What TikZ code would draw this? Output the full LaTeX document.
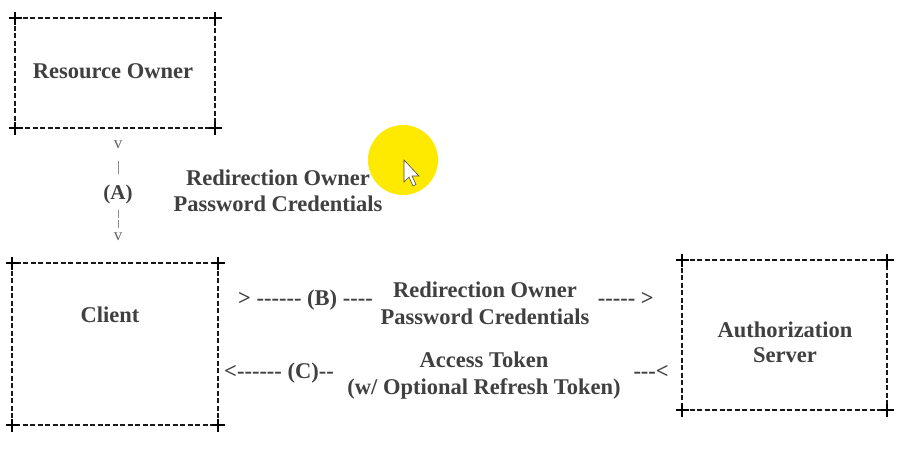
\documentclass[tikz,border=0pt]{standalone}
\usepackage{fontspec}
\setmainfont{Liberation Serif}[Ligatures=TeXOff]
\begin{document}
\begin{tikzpicture}[x=1pt,y=-1pt,
  txt/.style={font=\fontsize{22.5}{27}\selectfont\bfseries, text=black!75, inner sep=0pt, anchor=base},
  thin/.style={font=\fontsize{17}{20}\selectfont, text=black!60, inner sep=0pt},
  bar/.style={draw=black!45, line width=0.8pt},
  dbox/.style={draw=black!90, line width=1.5pt, dash pattern=on 5pt off 2.5pt},
  plus/.style={draw=black, line width=2pt}]
\fill[white] (0,0) rectangle (919,450);
\useasboundingbox (0,0) rectangle (919,450);
\tikzset{crn/.pic={\draw[plus] (-6.5,0) -- (6.5,0) (0,-6.5) -- (0,6.5);}}
% boxes
\draw[dbox] (15,18) rectangle (215,128);
\foreach \p in {(15,18),(215,18),(15,128),(215,128)} \pic at \p {crn};
\draw[dbox] (12,263) rectangle (218,425);
\foreach \p in {(12,263),(218,263),(12,425),(218,425)} \pic at \p {crn};
\draw[dbox] (682,260) rectangle (887,410);
\foreach \p in {(682,260),(887,260),(682,410),(887,410)} \pic at \p {crn};
% box labels
\node[txt] (ro) at (113,78) {Resource Owner};
\node[txt] (cl) at (110,322) {Client};
\node[txt] (as1) at (785,337) {Authorization};
\node[txt] (as2) at (785,362) {Server};
% vertical (A)
\node[thin] (v1) at (118,145) {v};
\coordinate (b1a) at (118,161); \coordinate (b1b) at (118,174);
\draw[bar] (b1a) -- (b1b);
\node[txt, font=\fontsize{21}{25}\selectfont\bfseries] (a) at (118,199) {(A)};
\coordinate (b2a) at (118,210); \coordinate (b2b) at (118,218);
\coordinate (b2c) at (118,220); \coordinate (b2d) at (118,228);
\draw[bar] (b2a) -- (b2b) (b2c) -- (b2d);
\node[thin] (v2) at (118,237) {v};
\node[txt] (ra1) at (278,185) {Redirection Owner};
\node[txt] (ra2) at (278,211) {Password Credentials};
% (B)
\node[txt, anchor=base west] (bl) at (238,305) {> ------ (B) ----};
\node[txt] (rb1) at (485,297) {Redirection Owner};
\node[txt] (rb2) at (485,324) {Password Credentials};
\node[txt, anchor=base east] (br) at (654,305) {----- >};
% (C)
\node[txt, anchor=base west] (clft) at (224,378) {<------ (C)--};
\node[txt] (c1) at (484,367) {Access Token};
\node[txt] (c2) at (484,394) {(w/ Optional Refresh Token)};
\node[txt, anchor=base east] (crt) at (669,378) {---<};
% yellow highlight and cursor
\fill[yellow!92!orange] (403,160) circle (35);
\draw[black!70, line width=0.6pt, fill=white] (404,160) -- (404,182) -- (409,177) -- (413,186) -- (416,184.5) -- (412,176) -- (419,176) -- cycle;
\end{tikzpicture}
\end{document}
